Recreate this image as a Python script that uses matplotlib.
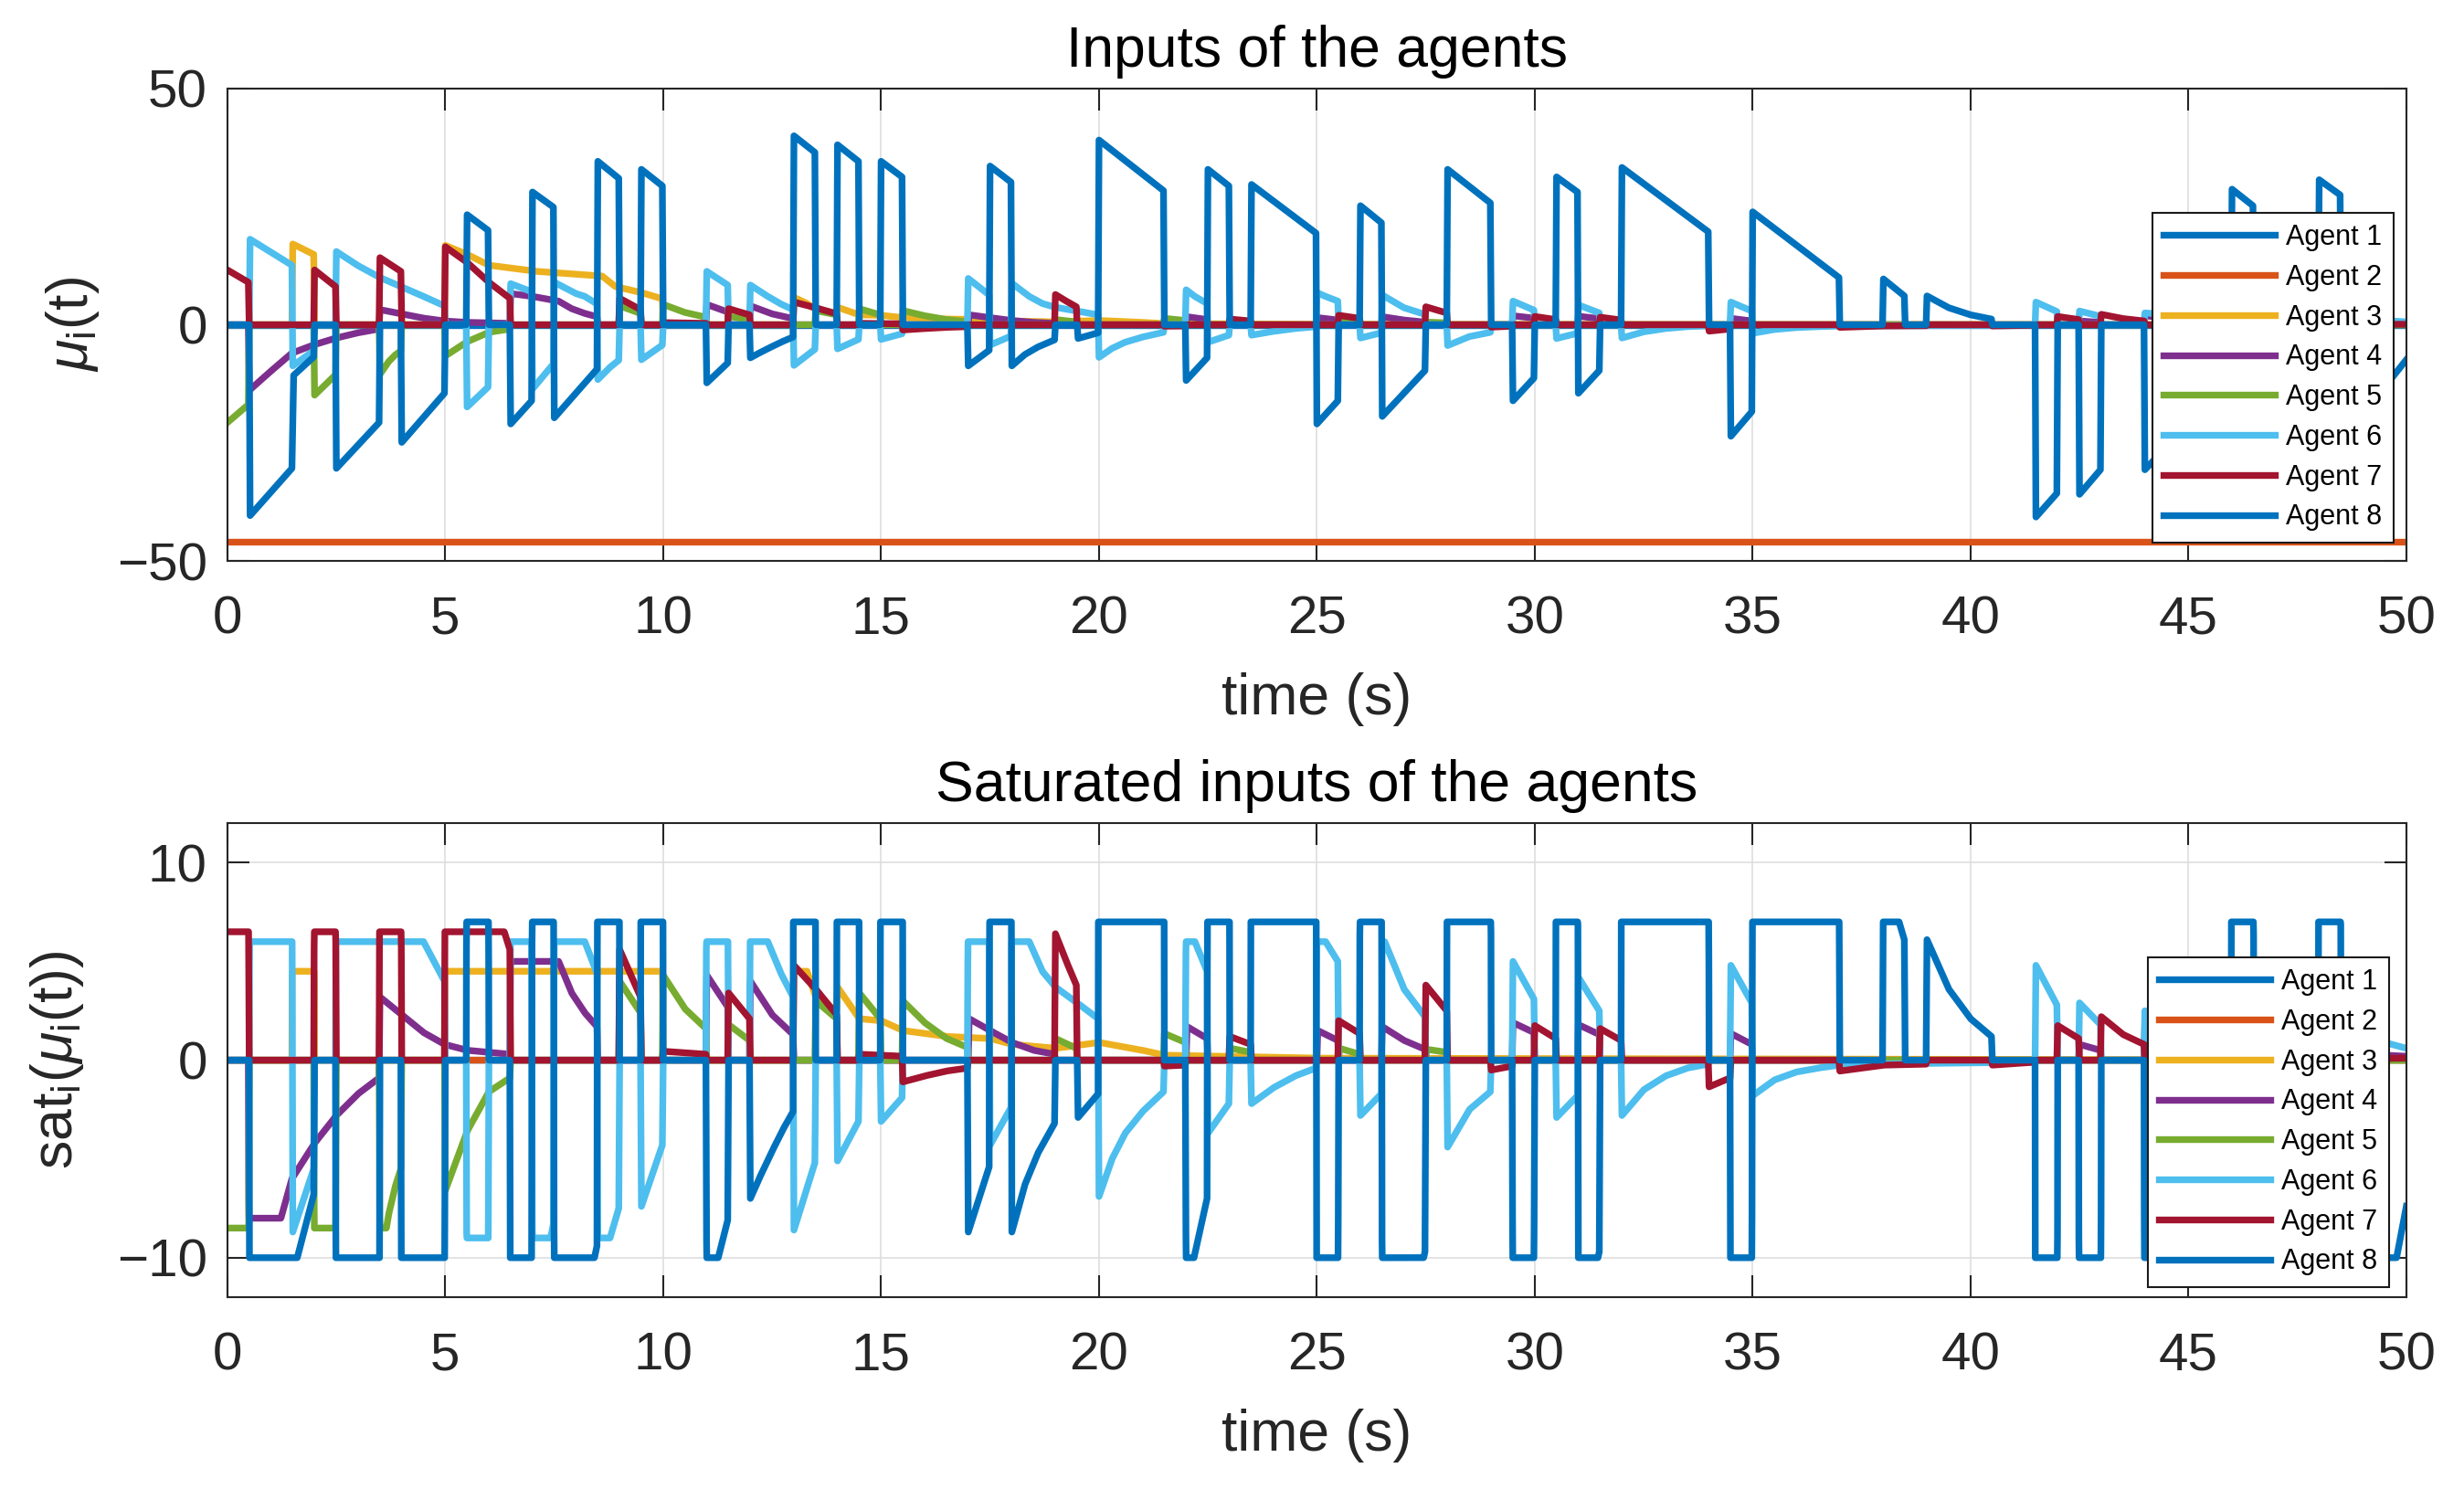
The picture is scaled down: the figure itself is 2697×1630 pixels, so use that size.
import numpy as np
import matplotlib
matplotlib.use("Agg")
import matplotlib.pyplot as plt

plt.rcParams["font.family"] = ["Liberation Sans", "DejaVu Sans"]
plt.rcParams["mathtext.fontset"] = "custom"
plt.rcParams["mathtext.rm"] = "Liberation Sans"
plt.rcParams["mathtext.it"] = "Liberation Sans:italic"

# ---- data: (time, mu_i(t)) breakpoints per agent ----
MU1 = [(0, 0), (50, 0)]
MU2 = [(0, -46), (50, -46)]
MU3 = [(0, 0), (1.48, 0), (1.5, 17.1), (1.98, 14.9), (2.0, 0), (4.98, 0), (5.0, 16.8), (5.5, 14.9),
       (6.0, 12.6), (7.1, 11.3), (8.6, 10.3), (8.9, 8.1), (9.5, 6.8), (9.98, 5.5), (10.0, 0), (12.98, 0),
       (13.0, 5.8), (13.3, 4.5), (13.5, 3.2), (13.98, 2.5), (14.0, 3.7), (14.5, 2.1), (15.0, 2.0),
       (15.5, 1.5), (16.5, 1.2), (17.5, 1.1), (18.0, 0.8), (19.0, 0.6), (20.0, 0.9), (21.0, 0.5),
       (21.5, 0.25), (25.0, 0.1), (50, 0)]
MU4 = [(0, 0), (0.48, 0), (0.5, -13.9), (1.0, -9.8), (1.48, -6.0), (2.0, -4.2), (2.5, -2.8), (3.0, -1.7),
       (3.48, -0.9), (3.5, 3.2), (4.0, 2.3), (4.5, 1.4), (4.98, 0.8), (5.5, 0.5), (6.48, 0.3), (6.5, 6.6),
       (7.0, 6.0), (7.6, 5.0), (7.9, 3.4), (8.2, 2.4), (8.48, 1.7), (8.5, 0), (10.98, 0), (11.0, 4.3),
       (11.48, 2.7), (11.5, 0), (11.98, 0), (12.0, 4.0), (12.5, 2.3), (12.98, 1.3), (13.0, 0), (17.0, 0),
       (17.02, 2.1), (17.5, 1.5), (18.0, 0.9), (18.5, 0.5), (18.98, 0.3), (19.0, 0), (22.0, 0),
       (22.02, 1.7), (22.48, 1.1), (22.5, 0), (25.0, 0), (25.02, 1.5), (25.48, 1.0), (25.5, 0),
       (26.48, 0), (26.5, 1.7), (27.0, 1.0), (27.48, 0.55), (27.5, 0), (29.48, 0), (29.5, 1.9),
       (29.98, 1.4), (30.0, 0), (30.98, 0), (31.0, 1.8), (31.48, 1.3), (31.5, 0), (34.48, 0),
       (34.5, 1.35), (34.98, 0.8), (35.0, 0), (42.48, 0), (42.5, 0.8), (42.98, 0.5), (43.0, 0),
       (43.98, 0), (44.0, 1.9), (45.0, 1.0), (47.0, 0.5), (50, 0.2)]
MU5 = [(0, -20.7), (0.48, -16.9), (0.5, 0), (1.98, 0), (2.0, -14.9), (2.48, -10.6), (2.5, 0), (3.48, 0),
       (3.5, -10.5), (3.7, -7.8), (3.85, -6.4), (3.98, -5.5), (4.0, 0), (4.98, 0), (5.0, -6.6),
       (5.5, -3.6), (6.0, -1.6), (6.48, -0.9), (6.5, 0), (8.98, 0), (9.0, 4.0), (9.48, 2.4), (9.5, 0),
       (9.98, 0), (10.0, 4.3), (10.5, 2.6), (10.98, 1.6), (11.0, 0), (11.48, 0), (11.5, 1.8),
       (11.98, 1.0), (12.0, 0), (13.48, 0), (13.5, 3.0), (13.98, 2.1), (14.0, 0), (14.48, 0),
       (14.5, 3.4), (14.98, 2.1), (15.0, 0), (15.48, 0), (15.5, 3.0), (16.0, 1.9), (16.5, 1.1),
       (16.98, 0.65), (17.0, 0), (18.98, 0), (19.0, 1.1), (19.48, 0.6), (19.5, 0), (21.48, 0),
       (21.5, 1.35), (21.98, 0.9), (22.0, 0), (23.0, 0), (23.02, 0.6), (23.48, 0.4), (23.5, 0),
       (25.5, 0), (25.52, 0.6), (25.98, 0.3), (26.0, 0), (27.5, 0), (27.52, 0.55), (27.98, 0.4),
       (28.0, 0), (50, 0)]
MU6 = [(0, 0), (0.5, 0), (0.52, 18.1), (1.48, 12.6), (1.5, -8.7), (1.98, -5.5), (2.0, 0), (2.48, 0),
       (2.5, 15.5), (3.0, 12.5), (3.5, 10.0), (4.0, 8.0), (4.5, 6.0), (4.98, 4.0), (5.0, 0), (5.48, 0),
       (5.5, -17.4), (5.98, -13.2), (6.0, 0), (6.48, 0), (6.5, 8.7), (6.98, 7.0), (7.0, -13.6),
       (7.48, -8.3), (7.5, 9.0), (8.0, 6.6), (8.2, 6.0), (8.48, 4.4), (8.5, -11.6), (8.78, -9.0),
       (8.98, -7.5), (9.0, 0), (9.48, 0), (9.5, -7.4), (9.98, -4.3), (10.0, 0), (10.98, 0), (11.0, 11.3),
       (11.48, 8.4), (11.5, 0), (11.98, 0), (12.0, 8.4), (12.4, 6.0), (12.7, 4.4), (12.98, 3.2),
       (13.0, -8.6), (13.48, -5.2), (13.5, 0), (13.98, 0), (14.0, -5.1), (14.48, -3.1), (14.5, 0),
       (14.98, 0), (15.0, -3.1), (15.48, -1.9), (15.5, 0), (16.98, 0), (17.0, 9.8), (17.48, 6.3),
       (17.5, -4.3), (17.98, -2.4), (18.0, 8.8), (18.4, 6.0), (18.7, 4.5), (19.0, 3.7), (19.5, 2.9),
       (19.98, 2.1), (20.0, -6.9), (20.3, -5.0), (20.6, -3.7), (21.0, -2.6), (21.48, -1.6), (21.5, 0),
       (21.98, 0), (22.0, 7.4), (22.2, 6.0), (22.48, 4.5), (22.5, -3.7), (22.98, -2.2), (23.0, 0),
       (23.48, 0), (23.5, -2.2), (24.0, -1.4), (24.5, -0.8), (24.98, -0.4), (25.0, 6.8), (25.2, 6.0),
       (25.48, 5.0), (25.5, 0), (25.98, 0), (26.0, -2.8), (26.48, -1.7), (26.5, 6.3), (27.0, 3.6),
       (27.48, 2.2), (27.5, 0), (27.98, 0), (28.0, -4.4), (28.5, -2.5), (28.98, -1.6), (29.0, 0),
       (29.48, 0), (29.5, 5.0), (29.98, 3.1), (30.0, 0), (30.48, 0), (30.5, -2.9), (30.98, -1.8),
       (31.0, 4.2), (31.48, 2.5), (31.5, 0), (31.98, 0), (32.0, -2.8), (32.5, -1.5), (33.0, -0.8),
       (33.5, -0.4), (33.98, -0.2), (34.0, 0), (34.48, 0), (34.5, 4.8), (34.98, 2.9), (35.0, -1.8),
       (35.5, -1.0), (36.0, -0.6), (36.5, -0.4), (36.98, -0.25), (37.5, -0.2), (41.48, -0.1),
       (41.5, 4.8), (41.98, 2.8), (42.0, 0), (42.48, 0), (42.5, 2.9), (42.98, 1.8), (43.0, 0),
       (43.98, 0), (44.0, 2.5), (45.0, 1.8), (46.0, 1.4), (48.0, 1.0), (49.5, 0.9), (50, 0.6)]
MU7 = [(0, 11.6), (0.48, 9.0), (0.5, 0), (1.98, 0), (2.0, 11.6), (2.48, 8.1), (2.5, 0), (3.48, 0),
       (3.5, 14.2), (3.98, 11.3), (4.0, 0), (4.98, 0), (5.0, 16.5), (5.5, 13.2), (6.0, 9.0), (6.48, 5.6),
       (6.5, 0), (8.98, 0), (9.0, 5.6), (9.48, 3.2), (9.5, 0), (9.98, 0), (10.0, 0.45), (10.98, 0.3),
       (11.0, 0), (11.48, 0), (11.5, 3.4), (11.98, 2.1), (12.0, 0), (12.98, 0), (13.0, 4.8), (13.5, 3.6),
       (13.98, 2.3), (14.0, 0), (14.48, 0), (14.5, 0.3), (15.48, 0.2), (15.5, -1.1), (16.0, -0.8),
       (16.5, -0.55), (16.98, -0.4), (17.0, 0), (18.98, 0), (19.0, 6.4), (19.25, 5.0), (19.48, 3.8),
       (19.5, 0), (21.48, 0), (21.5, -0.3), (21.98, -0.25), (22.0, 0), (22.98, 0), (23.0, 1.2),
       (23.48, 0.8), (23.5, 0), (25.48, 0), (25.5, 2.0), (25.98, 1.35), (26.0, 0), (27.48, 0),
       (27.5, 3.8), (27.98, 2.5), (28.0, 0), (28.98, 0), (29.0, -0.5), (29.48, -0.3), (29.5, 0),
       (29.98, 0), (30.0, 1.75), (30.48, 1.1), (30.5, 0), (31.48, 0), (31.5, 1.6), (31.98, 1.0),
       (32.0, 0), (33.98, 0), (34.0, -1.35), (34.48, -0.9), (34.5, 0), (36.98, 0), (37.0, -0.55),
       (38.0, -0.25), (38.98, -0.2), (39.0, 0), (40.48, 0), (40.5, -0.25), (41.48, -0.1), (41.5, 0),
       (41.98, 0), (42.0, 1.75), (42.48, 1.1), (42.5, 0), (42.98, 0), (43.0, 2.2), (43.5, 1.3),
       (43.98, 0.8), (44.0, 0), (50, 0.1)]
MU8 = [(0, 0), (0.5, 0), (0.52, -40.4), (1.48, -30.4), (1.52, -10.7), (1.98, -6.8), (2.0, 0), (2.48, 0),
       (2.5, -30.4), (3.48, -20.7), (3.5, 0), (3.98, 0), (4.0, -24.9), (4.98, -14.5), (5.0, 0),
       (5.48, 0), (5.5, 23.3), (5.98, 20.0), (6.0, 0), (6.48, 0), (6.5, -21.0), (6.98, -16.1),
       (7.0, 28.1), (7.48, 24.9), (7.5, -19.7), (8.48, -9.4), (8.5, 34.6), (8.98, 31.0), (9.0, 0),
       (9.48, 0), (9.5, 32.9), (9.98, 29.4), (10.0, 0), (10.98, 0), (11.0, -12.3), (11.48, -8.1),
       (11.5, 0), (11.98, 0), (12.0, -7.0), (12.2, -6.0), (12.5, -4.6), (12.75, -3.5), (12.98, -2.6),
       (13.0, 40.0), (13.48, 36.5), (13.5, 0), (13.98, 0), (14.0, 38.1), (14.48, 34.6), (14.5, 0),
       (14.98, 0), (15.0, 34.6), (15.48, 31.3), (15.5, 0), (16.98, 0), (17.0, -8.7), (17.48, -5.4),
       (17.5, 33.6), (17.98, 30.2), (18.0, -8.7), (18.3, -6.3), (18.6, -4.7), (18.98, -3.2), (19.0, 0),
       (19.5, 0), (19.52, -2.9), (19.98, -1.7), (20.0, 39.1), (21.48, 28.4), (21.5, 0), (21.98, 0),
       (22.0, -11.8), (22.48, -7.0), (22.5, 32.9), (22.98, 29.4), (23.0, 0), (23.48, 0), (23.5, 29.7),
       (24.98, 19.4), (25.0, -21.0), (25.48, -16.1), (25.5, 0), (25.98, 0), (26.0, 25.2),
       (26.48, 21.6), (26.5, -19.4), (27.48, -9.7), (27.5, 0), (27.98, 0), (28.0, 32.9), (28.98, 25.8),
       (29.0, 0), (29.48, 0), (29.5, -16.1), (29.98, -11.3), (30.0, 0), (30.48, 0), (30.5, 31.3),
       (30.98, 28.1), (31.0, -14.5), (31.48, -9.7), (31.5, 0), (31.98, 0), (32.0, 33.3), (33.98, 19.7),
       (34.0, 0), (34.48, 0), (34.5, -23.6), (34.98, -18.4), (35.0, 23.9), (36.98, 10.0), (37.0, 0),
       (37.98, 0), (38.0, 9.7), (38.48, 6.1), (38.5, 0), (38.98, 0), (39.0, 6.1), (39.5, 3.6),
       (40.0, 2.1), (40.48, 1.2), (40.5, 0), (41.48, 0), (41.5, -40.7), (41.98, -35.7), (42.0, 0),
       (42.48, 0), (42.5, -35.9), (42.98, -30.7), (43.0, 0), (43.98, 0), (44.0, -30.7), (44.48, -26.0),
       (44.5, 0), (45.98, 0), (46.0, 28.7), (46.48, 25.2), (46.5, 0), (47.98, 0), (48.0, 30.7),
       (48.48, 27.5), (48.5, 0), (49.48, 0), (49.5, -13.2), (50, -7.4)]

AGENTS = [MU1, MU2, MU3, MU4, MU5, MU6, MU7, MU8]
LABELS = [f"Agent {i}" for i in range(1, 9)]
COLORS = ["#0072BD", "#D95319", "#EDB120", "#7E2F8E", "#77AC30", "#4DBEEE", "#A2142F", "#0072BD"]

# saturation bounds per agent (lower, upper)
SAT_LO = [-10, 0, -4.5, -8, -8.5, -9, -6.5, -10]
SAT_HI = [7, 0, 4.5, 5, 8.5, 6, 6.5, 7]

XTICKS = list(range(0, 51, 5))
YTICKS_TOP = [-50, 0, 50]
YTICKS_BOT = [-10, 0, 10]

AX_COLOR = "#262626"
LW = 5.3

fig = plt.figure(figsize=(26.97, 16.30), dpi=100)
ax1 = fig.add_axes([0.0923, 0.6233, 0.8843, 0.3172])
ax2 = fig.add_axes([0.0923, 0.1288, 0.8843, 0.3184])

t_fine = np.arange(0, 50.0001, 0.005)

for pts, lab, col, lo, hi in zip(AGENTS, LABELS, COLORS, SAT_LO, SAT_HI):
    t, v = np.array(pts, dtype=float).T
    ax1.plot(t, v, color=col, lw=LW, label=lab)
    # saturated input: same signal passed through sat_i
    sat = np.clip(np.interp(t_fine, t, v), lo, hi)
    ax2.plot(t_fine, sat, color=col, lw=LW, label=lab)


def style(ax, yticks, ylim):
    ax.set_xlim(0, 50)
    ax.set_ylim(*ylim)
    ax.set_xticks(XTICKS)
    ax.set_yticks(yticks)
    ax.grid(True, color="#dedede", linewidth=1.2)
    ax.set_axisbelow(True)
    ax.tick_params(direction="in", length=17, width=1.5, top=True, right=True,
                   labelsize=42, colors=AX_COLOR)
    ax.tick_params(axis="x", pad=27)
    ax.tick_params(axis="y", pad=16)
    for s in ax.spines.values():
        s.set_color(AX_COLOR)
        s.set_linewidth(1.5)


style(ax1, YTICKS_TOP, (-50, 50))
style(ax2, YTICKS_BOT, (-12, 12))

ax1.set_title("Inputs of the agents", fontsize=45, pad=17, color="black")
ax2.set_title("Saturated inputs of the agents", fontsize=45, pad=17, color="black")

ax1.set_xlabel("time (s)", fontsize=45, color=AX_COLOR)
ax2.set_xlabel("time (s)", fontsize=45, color=AX_COLOR)
ax1.xaxis.set_label_coords(0.5, -0.236)
ax2.xaxis.set_label_coords(0.5, -0.234)

ax1.set_ylabel(r"$\mu_{\mathrm{i}}$(t)", fontsize=45, color=AX_COLOR)
ax2.set_ylabel(r"sat$_{\mathrm{i}}$($\mu_{\mathrm{i}}$(t))", fontsize=45, color=AX_COLOR)
ax1.yaxis.set_label_coords(-0.058, 0.5)
ax2.yaxis.set_label_coords(-0.065, 0.5)

for ax, anchor in [(ax1, (0.994, 0.737)), (ax2, (0.992, 0.717))]:
    leg = ax.legend(loc="upper right", bbox_to_anchor=anchor, fontsize=22, frameon=True,
                    fancybox=False, framealpha=1, edgecolor="#1a1a1a", handlelength=4.0,
                    borderpad=0.4, labelspacing=0.45, handletextpad=0.4, borderaxespad=0)
    leg.get_frame().set_linewidth(1.5)

fig.savefig("out.png", dpi=100, facecolor="white")
